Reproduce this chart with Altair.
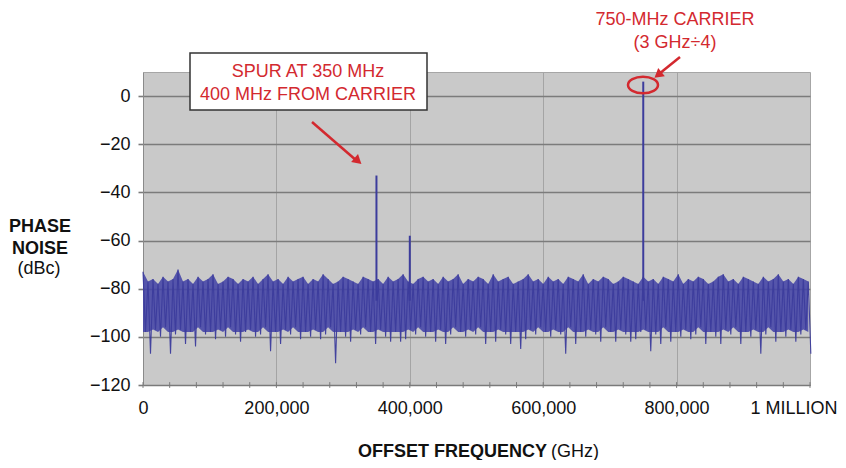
import altair as alt
import pandas as pd

# ---------------- data ----------------
x_major = [0, 200000, 400000, 600000, 800000, 1000000]
x_minor = [i * 40000 for i in range(26)]
y_ticks = [-120, -100, -80, -60, -40, -20, 0]

step = 7500  # sweep bin spacing (Hz)
noise_upper = [
    -73, -77, -76, -78, -75, -77, -76, -72, -77, -76, -78, -75, -77, -76, -74, -78, -77, -75, -76, -78,
    -76, -77, -75, -78, -76, -74, -77, -76, -78, -75, -77, -76, -75, -78, -76, -77, -74, -76, -78, -77,
    -75, -76, -77, -78, -75, -76, -77, -76, -78, -75, -77, -76, -74, -77, -78, -76, -75, -77, -76, -78,
    -75, -77, -76, -74, -78, -76, -77, -75, -76, -78, -74, -77, -76, -75, -78, -77, -76, -74, -77, -76,
    -78, -75, -77, -76, -78, -75, -76, -77, -74, -78, -76, -77, -75, -76, -78, -77, -75, -76, -77, -78,
    -75, -77, -76, -78, -75, -76, -77, -74, -78, -76, -77, -75, -76, -78, -77, -75, -74, -77, -76, -78,
    -75, -76, -77, -78, -75, -77, -76, -74, -77, -76, -78, -75, -76, -77,
]
noise_lower = [
    -98, -107, -97, -100, -96, -107, -99, -97, -103, -98,
    -104, -96, -99, -98, -101, -97, -100, -96, -99, -102,
    -98, -97, -100, -99, -96, -106, -98, -103, -97, -99,
    -96, -101, -98, -100, -97, -101, -99, -96, -111, -98,
    -100, -102, -97, -99, -96, -98, -103, -97, -100, -102,
    -98, -102, -101, -97, -99, -96, -100, -98, -102, -97,
    -103, -99, -96, -98, -100, -97, -99, -96, -103, -98,
    -102, -97, -99, -103, -98, -105, -101, -97, -99, -96,
    -98, -100, -97, -99, -107, -96, -103, -98, -100, -97,
    -99, -102, -96, -98, -102, -97, -99, -102, -101, -98,
    -97, -106, -99, -103, -96, -102, -98, -100, -97, -101,
    -99, -96, -103, -98, -100, -103, -97, -99, -96, -103,
    -98, -100, -97, -107, -99, -96, -102, -98, -100, -97,
    -102, -99, -97, -107,
]

spur_freq = [350000, 400000, 750000]
spur_level = [-33, -58, 6]
spur_base = [-85, -85, -85]

# ---------------- tables ----------------
rows = []
for i, (u, l) in enumerate(zip(noise_upper, noise_lower)):
    rows.append({"freq": i * step, "dbc": u})
    rows.append({"freq": i * step + step / 2, "dbc": l})
noise_df = pd.DataFrame(rows)
band_df = pd.DataFrame({
    "freq": [i * step for i in range(len(noise_upper))],
    "hi": noise_upper,
    "lo": [max(v, -98) for v in noise_lower],
})
spur_df = pd.DataFrame({"freq": spur_freq, "top": spur_level, "base": spur_base})
minor_df = pd.DataFrame({"freq": x_minor})
one = pd.DataFrame({"a": [0]})

W, H = 667, 313
BLUE = "#3c3c9c"
RED = "#d3292f"
FONT = "Liberation Sans"

xs = alt.Scale(domain=[0, 1000000], nice=False, zero=False)
ys = alt.Scale(domain=[-120, 10], nice=False, zero=False)

inner_test = "datum.value > 0 && datum.value < 1000000"
last_test = "datum.value == 1000000"

band = alt.Chart(band_df).mark_area(color="#4444a6", opacity=0.88, interpolate="linear").encode(
    x=alt.X(
        "freq:Q",
        scale=xs,
        axis=alt.Axis(
            values=x_major,
            labelExpr="datum.value == 1000000 ? '1 MILLION' : format(datum.value, ',')",
            labelAlign={"condition": {"test": last_test, "value": "right"}, "value": "center"},
            labelOffset={"condition": {"test": last_test, "value": 27}, "value": 0},
            grid=True,
            gridColor="#a4a4a4",
            gridWidth=1,
            gridOpacity={"condition": {"test": inner_test, "value": 1}, "value": 0},
            ticks=False,
            domainColor="#7a7a7a",
            labelFont=FONT,
            labelFontSize=18,
            labelColor="#111111",
            labelPadding=14,
            labelOverlap=False,
            labelFlush=False,
            title=None,
        ),
    ),
    y=alt.Y(
        "hi:Q",
        scale=ys,
        axis=alt.Axis(
            values=y_ticks,
            grid=True,
            gridColor="#7b7b7b",
            gridWidth=1.6,
            tickSize=5,
            tickColor="#7b7b7b",
            tickWidth=1.6,
            domainColor="#8a8a8a",
            labelFont=FONT,
            labelFontSize=18,
            labelColor="#111111",
            labelPadding=8,
            title=None,
        ),
    ),
    y2="lo:Q",
)

noise = alt.Chart(noise_df).mark_line(color=BLUE, strokeWidth=1.1, opacity=0.95).encode(
    x=alt.X("freq:Q", scale=xs, title=None),
    y=alt.Y("dbc:Q", scale=ys, title=None),
)

minor = alt.Chart(minor_df).mark_rule(color="#7a7a7a", strokeWidth=1).encode(
    x=alt.X("freq:Q", scale=xs, title=None),
    y=alt.datum(-118.8, scale=ys),
    y2=alt.datum(-121.2),
)

spurs = alt.Chart(spur_df).mark_rule(color=BLUE, strokeWidth=2).encode(
    x=alt.X("freq:Q", scale=xs, title=None),
    y=alt.Y("base:Q", scale=ys, title=None),
    y2="top:Q",
)

# ---------------- annotations ----------------
def txt(s, x, y, size=18, color=RED, weight="normal", align="center"):
    return alt.Chart(one).mark_text(
        text=s, font=FONT, fontSize=size, color=color, fontWeight=weight,
        align=align, baseline="middle",
    ).encode(x=alt.value(x), y=alt.value(y))

box = alt.Chart(one).mark_rect(fill="white", stroke="#333333", strokeWidth=1.5).encode(
    x=alt.value(47), x2=alt.value(284), y=alt.value(-19), y2=alt.value(38)
)

arrow1 = alt.Chart(one).mark_rule(color=RED, strokeWidth=2.5).encode(
    x=alt.value(169), y=alt.value(50), x2=alt.value(214), y2=alt.value(89)
)
head1 = alt.Chart(one).mark_point(
    shape="triangle-up", filled=True, color=RED, size=110, angle=131, opacity=1
).encode(x=alt.value(215), y=alt.value(89))

arrow2 = alt.Chart(one).mark_rule(color=RED, strokeWidth=2.5).encode(
    x=alt.value(537), y=alt.value(-15), x2=alt.value(516), y2=alt.value(2)
)
head2 = alt.Chart(one).mark_point(
    shape="triangle-up", filled=True, color=RED, size=110, angle=231, opacity=1
).encode(x=alt.value(515), y=alt.value(3))

ellipse = alt.Chart(one).mark_point(
    shape="M-1,0 A1,0.55 0 1,0 1,0 A1,0.55 0 1,0 -1,0 Z",
    filled=False, color=RED, strokeWidth=2.5, size=900, opacity=1,
).encode(x=alt.value(500), y=alt.value(13))

chart = alt.layer(
    band,
    noise,
    minor,
    spurs,
    box,
    txt("SPUR AT 350 MHz", 165, 0),
    txt("400 MHz FROM CARRIER", 165, 23),
    arrow1, head1,
    txt("750-MHz CARRIER", 532, -52),
    txt("(3 GHz÷4)", 532, -29),
    arrow2, head2,
    ellipse,
    txt("PHASE", -103, 155, color="#111111", weight="bold"),
    txt("NOISE", -103, 177, color="#111111", weight="bold"),
    txt("(dBc)", -104, 197, color="#111111"),
    txt("OFFSET FREQUENCY", 404, 380, color="#111111", weight="bold", align="right"),
    txt("(GHz)", 408, 380, color="#111111", align="left"),
).properties(
    width=W,
    height=H,
    autosize=alt.AutoSizeParams(type="none"),
    padding={"left": 135, "top": 64, "right": 28, "bottom": 75},
).configure_view(fill="#c9c9c9", stroke="#a6a6a6")

chart.save("out.html", embed_options={"renderer": "svg", "actions": False})
